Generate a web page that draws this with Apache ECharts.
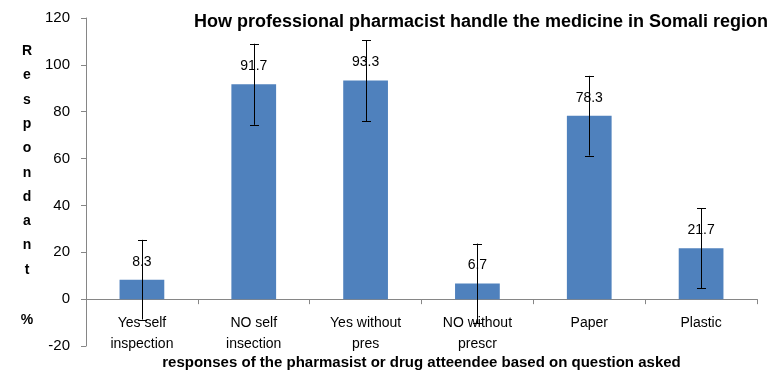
<!DOCTYPE html>
<html>
<head>
<meta charset="utf-8">
<script src="https://cdn.jsdelivr.net/npm/echarts@6/dist/echarts.min.js"></script>
<style>html,body{margin:0;padding:0;background:#fff}#c{width:776px;height:389px}</style>
</head>
<body>
<div id="c"></div>
<script>
const categories = ["Yes self\ninspection", "NO self\ninsection", "Yes without\npres", "NO without\nprescr", "Paper", "Plastic"];
const values = [8.3, 91.7, 93.3, 6.7, 78.3, 21.7];
const errors = [17, 17.3, 17.3, 17, 17, 17];
const yTicks = { min: -20, max: 120, interval: 20 };

const errData = values.map((v, i) => [i, v - errors[i], v + errors[i]]);
const FONT = "Liberation Sans";
const chart = echarts.init(document.getElementById('c'), null, { renderer: 'canvas' });
chart.setOption({
  animation: false,
  backgroundColor: '#fff',
  textStyle: { fontFamily: FONT },
  grid: { left: 86, right: 19, top: 18, bottom: 43, outerBoundsMode: 'none', containLabel: false },
  graphic: [
    {
      type: 'text', x: 481, y: 22,
      style: {
        text: 'How professional pharmacist handle the medicine in Somali region',
        fontFamily: FONT, fontWeight: 'bold', fontSize: 18, fill: '#000',
        align: 'center', verticalAlign: 'middle'
      }
    },
    {
      type: 'text', x: 27, y: 39,
      style: {
        text: 'R\ne\ns\np\no\nn\nd\na\nn\nt',
        fontFamily: FONT, fontWeight: 'bold', fontSize: 14, lineHeight: 24.3,
        fill: '#000', align: 'center', verticalAlign: 'top'
      }
    },
    {
      type: 'text', x: 27, y: 320,
      style: {
        text: '%',
        fontFamily: FONT, fontWeight: 'bold', fontSize: 14,
        fill: '#000', align: 'center', verticalAlign: 'middle'
      }
    },
    {
      type: 'text', x: 421.5, y: 363,
      style: {
        text: 'responses of the pharmasist or drug atteendee based on question asked',
        fontFamily: FONT, fontWeight: 'bold', fontSize: 15, fill: '#000',
        align: 'center', verticalAlign: 'middle'
      }
    }
  ],
  xAxis: {
    type: 'category',
    data: categories,
    axisLine: { onZero: true, lineStyle: { color: '#868686', width: 1 } },
    axisTick: { show: true, alignWithLabel: false, length: 5, lineStyle: { color: '#868686' } },
    axisLabel: { interval: 0, margin: -33, fontFamily: FONT, fontSize: 14, lineHeight: 21, color: '#000' },
    splitLine: { show: false }
  },
  yAxis: {
    type: 'value',
    min: yTicks.min, max: yTicks.max, interval: yTicks.interval,
    axisLine: { show: true, lineStyle: { color: '#868686', width: 1 } },
    axisTick: { show: true, length: 5, lineStyle: { color: '#868686' } },
    axisLabel: { margin: 16, fontFamily: FONT, fontSize: 15, color: '#000' },
    splitLine: { show: false }
  },
  series: [
    {
      type: 'bar',
      data: values,
      barWidth: '40%',
      itemStyle: { color: '#4F81BD' },
      label: { show: true, position: 'top', distance: 11, fontFamily: FONT, fontSize: 14, color: '#000' },
      z: 2
    },
    {
      type: 'custom',
      data: errData,
      z: 5,
      renderItem: function (params, api) {
        const x = api.value(0);
        const lo = api.coord([x, api.value(1)]);
        const hi = api.coord([x, api.value(2)]);
        const cx = Math.round(lo[0]) + 0.5;
        const hw = 4.5;
        const st = { stroke: '#000', lineWidth: 1 };
        return {
          type: 'group',
          children: [
            { type: 'line', shape: { x1: cx, y1: hi[1], x2: cx, y2: lo[1] }, style: st },
            { type: 'line', shape: { x1: cx - hw, y1: Math.round(hi[1]) + 0.5, x2: cx + hw, y2: Math.round(hi[1]) + 0.5 }, style: st },
            { type: 'line', shape: { x1: cx - hw, y1: Math.round(lo[1]) + 0.5, x2: cx + hw, y2: Math.round(lo[1]) + 0.5 }, style: st }
          ]
        };
      }
    }
  ]
});
</script>
</body>
</html>
